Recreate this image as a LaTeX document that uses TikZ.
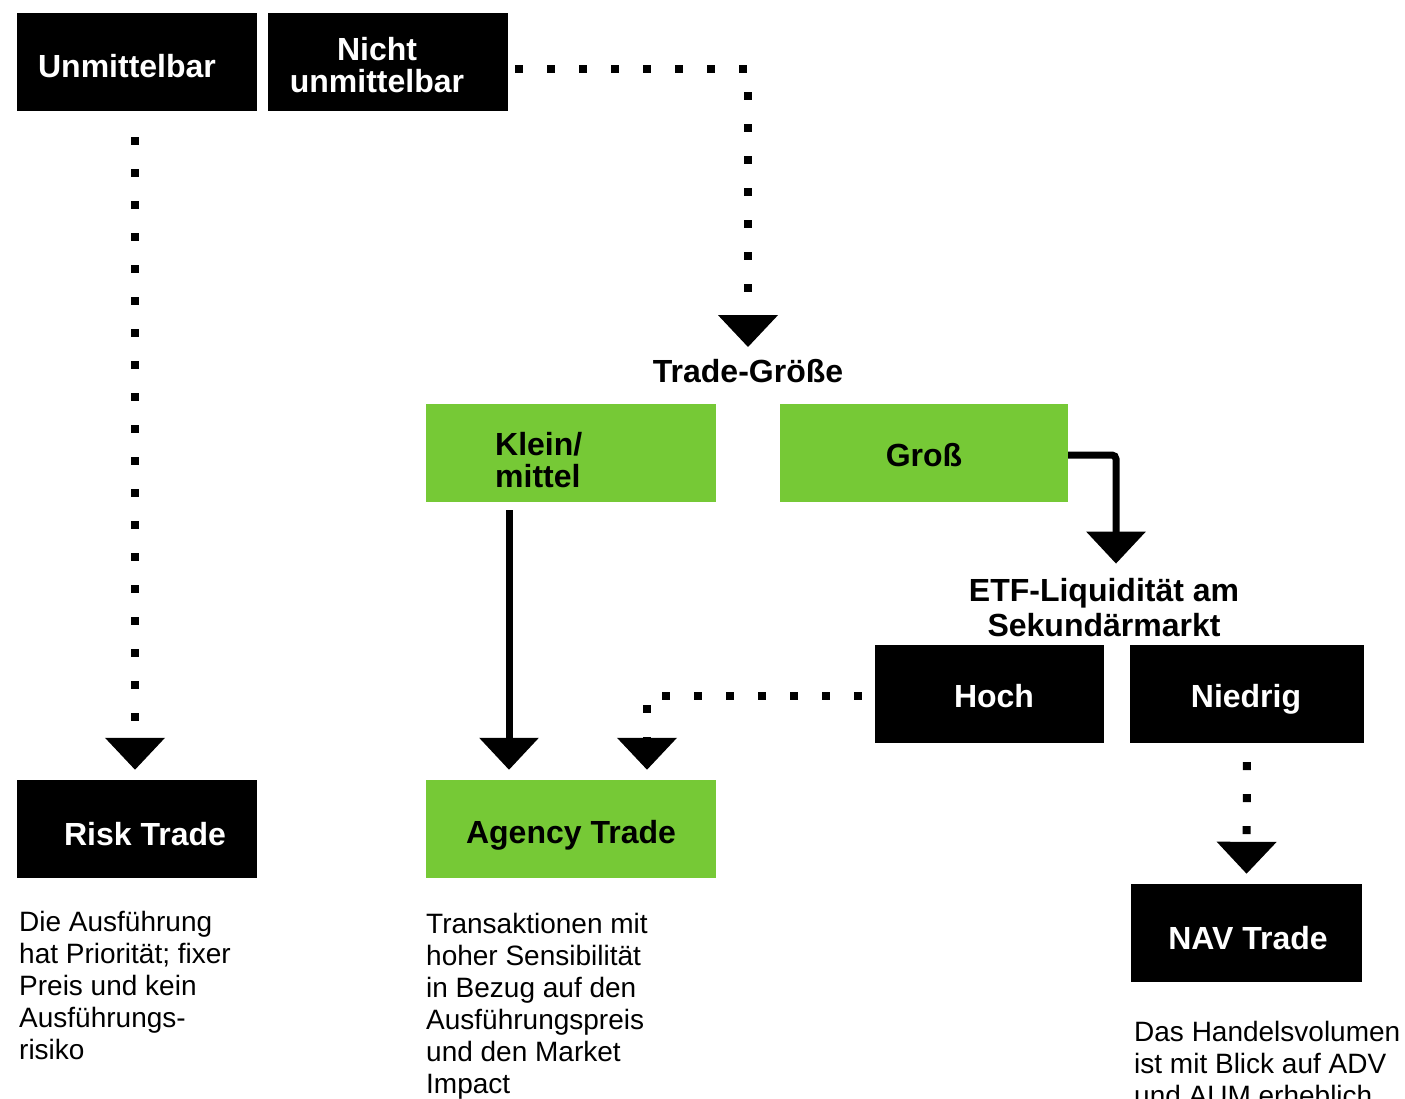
\documentclass[tikz,border=0pt]{standalone}
\usepackage{fontspec}
\setmainfont{Liberation Sans}
\usetikzlibrary{arrows.meta}
\definecolor{bgreen}{RGB}{118,201,54}
\begin{document}
\begin{tikzpicture}[x=1pt,y=-1pt,
  boxshape/.style={inner sep=0pt,minimum height=98pt},
  blackbox/.style={boxshape,fill=black},
  greenbox/.style={boxshape,fill=bgreen},
  wlabel/.style={text=white,font=\fontsize{32}{32}\selectfont\bfseries,align=center,inner sep=0pt,anchor=base},
  klabel/.style={text=black,font=\fontsize{32}{32}\selectfont\bfseries,align=center,inner sep=0pt,anchor=base},
  bodytext/.style={font=\fontsize{28}{32}\selectfont,align=left,inner sep=0pt,anchor=base west},
  dotline/.style={line width=8pt,dash pattern=on 8pt off 24pt},
  solidline/.style={line width=7pt},
  tri/.style={-{Triangle[width=58pt,length=32pt]}}]
\path[use as bounding box] (0,0) rectangle (1405,1099);
\clip (0,0) rectangle (1405,1099);

% boxes
\node[blackbox,minimum width=240pt] (unm) at (137,62) {};
\node[blackbox,minimum width=240pt] (nicht) at (388,62) {};
\node[greenbox,minimum width=290pt] (klein) at (571,453) {};
\node[greenbox,minimum width=288pt] (gross) at (924,453) {};
\node[blackbox,minimum width=229pt] (hoch) at (989.5,694) {};
\node[blackbox,minimum width=234pt] (niedrig) at (1247,694) {};
\node[blackbox,minimum width=240pt] (risk) at (137,829) {};
\node[greenbox,minimum width=290pt] (agency) at (571,829) {};
\node[blackbox,minimum width=231pt] (nav) at (1246.5,933) {};

% box texts (base anchor = baseline of the last line)
\node[wlabel] (unmt) at (127,77.5) {Unmittelbar};
\node[wlabel] (nichtt) at (377,93) {Nicht\\unmittelbar};
\node[klabel,align=left,anchor=base west] (kleint) at (495,487) {Klein/\\mittel};
\node[klabel] (grosst) at (924,466.5) {Groß};
\node[wlabel] (hocht) at (994,707.5) {Hoch};
\node[wlabel] (niedrigt) at (1246,707.5) {Niedrig};
\node[wlabel] (riskt) at (145,845.5) {Risk Trade};
\node[klabel] (agencyt) at (571,843.5) {Agency Trade};
\node[wlabel] (navt) at (1248,949.5) {NAV Trade};

% free labels
\node[klabel] (tg) at (748,382.5) {Trade-Größe};
\node[klabel,font=\fontsize{32}{35}\selectfont\bfseries] (etf) at (1104,636) {ETF-Liquidität am\\Sekundärmarkt};

% descriptions
\node[bodytext] (riskd) at (19,1059) {Die Ausführung\\hat Priorität; fixer\\Preis und kein\\Ausführungs-\\risiko};
\node[bodytext] (agencyd) at (426,1093) {Transaktionen mit\\hoher Sensibilität\\in Bezug auf den\\Ausführungspreis\\und den Market\\Impact};
\node[bodytext] (navd) at (1134,1105) {Das Handelsvolumen\\ist mit Blick auf ADV\\und AUM erheblich};

% connectors
\draw[dotline,tri,shorten <=7pt,shorten >=12pt] ([yshift=-7pt]nicht.east) -| (tg.north);
\draw[dotline,tri,shorten <=26pt,shorten >=10pt] ([xshift=-2pt]unm.south) -- ([xshift=-2pt]risk.north);
\draw[solidline,tri,shorten <=8pt,shorten >=10pt] ([xshift=-62pt]klein.south) -- ([xshift=-62pt]agency.north);
\draw[dotline,tri,shorten <=13pt,shorten >=10pt] ([yshift=-2pt]hoch.west) -| ([xshift=76pt]agency.north);
\draw[solidline,tri,rounded corners=4pt,shorten >=14pt] ([yshift=-2pt]gross.east) -| ([xshift=12pt]etf.north);
\draw[dotline,tri,shorten <=19pt,shorten >=10pt] (niedrig.south) -- (nav.north);
\end{tikzpicture}
\end{document}
